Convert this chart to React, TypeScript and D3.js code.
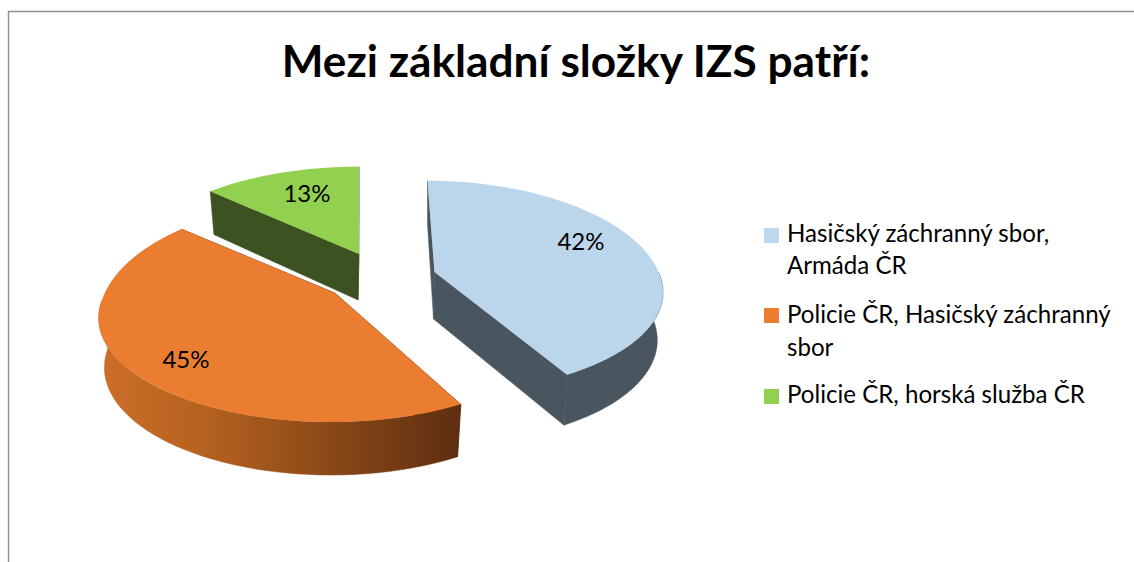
import React from "react";
import * as d3 from "d3";

const titleText = "Mezi základní složky IZS patří:";
const categories = ["Hasičský záchranný sbor, Armáda ČR", "Policie ČR, Hasičský záchranný sbor", "Policie ČR, horská služba ČR"];
const values = [42, 45, 13];
const valueLabels = ["42%", "45%", "13%"];
const legendLines = [["Hasičský záchranný sbor,", "Armáda ČR"], ["Policie ČR, Hasičský záchranný", "sbor"], ["Policie ČR, horská služba ČR"]];

const topColors = ["#BBD5EB", "#EB7D31", "#92D050"];
const swatchColors = ["#BDD7EE", "#ED7D31", "#92D050"];
const wallColors = ["#4A565F", "url(#orangeWall)", "#3C5220"];
const radialColors = ["#4A565F", "#5F2F10", "#3C5220"];
// ellipse centre of every slice and the visible tip of its wedge
const centres: [number, number][] = [[434.5, 272], [331, 300], [359, 254]];
const apexes: [number, number][] = [[434.5, 272], [335, 293], [359, 254]];
const radii = [224, 229, 228];
const skews = [-7, 0, 0];
const tiltFar = [1.045, 1.11, 0.985];
const tiltNear = [0.98, 0.97, 1];
const depthBase = [47, 49, 46];
const labelPos: [number, number][] = [[581, 250], [186, 368], [307, 202]];
const legendSwatchY = [228, 308, 389];
const legendBaselines = [[242, 274], [323, 356], [403]];
const drawOrder = [2, 0, 1];

const tilt = 105.6 / 232, persp = 5.76 * 232, baseShrink = 0.975;

const pieGen = d3.pie<number>().sort(null);
const arcs = pieGen(values);

function project(i: number, a: number, r: number, bottom: boolean): [number, number] {
  const [cx, cy] = r === 0 && !bottom ? apexes[i] : centres[i];
  if (r === 0) return bottom ? [apexes[i][0] - 1, apexes[i][1] + depthBase[i]] : [cx, cy];
  const R = radii[i];
  const X = r * R * Math.sin(a), Y = r * R * Math.cos(a);
  const p = persp / (persp + Y);
  const sx = X * p * (bottom ? baseShrink : 1) + skews[i] * (Y / R);
  const sy = -Y * tilt * p * (Y > 0 ? tiltFar[i] : tiltNear[i]);
  const depth = bottom ? depthBase[i] + (-Y / R) * 4 : 0;
  return [cx + sx, cy + sy + depth];
}

const lineGen = d3.line();

function rimAngles(a0: number, a1: number) {
  return d3.range(0, 81).map((k) => d3.interpolateNumber(a0, a1)(k / 80));
}

const clampFront = (a0: number, a1: number): [number, number] | null => {
  const lo = Math.max(a0, Math.PI * 0.5), hi = Math.min(a1, Math.PI * 1.5);
  return lo < hi ? [lo, hi] : null;
};

export default function App() {
  return (
    <svg width={1134} height={562} style={{ position: "fixed", left: 0, top: 0, background: "#fff" }}>
      <defs>
        <linearGradient id="orangeWall" gradientUnits="userSpaceOnUse" x1={101} x2={460} y1={0} y2={0}>
          <stop offset="0" stopColor="#CC6E2A" />
          <stop offset="0.3" stopColor="#B4611F" />
          <stop offset="1" stopColor="#5E2E10" />
        </linearGradient>
      </defs>
      <path d="M8.5,562 V11.5 H1134" fill="none" stroke="#8E8E8E" strokeWidth={1.4} />
      <text x={576} y={77} textAnchor="middle" fontFamily="Lato" fontWeight={700} fontSize={44.2} fill="#000">{titleText}</text>
      {drawOrder.map((i) => {
        const s = arcs[i];
        const radial = [s.startAngle, s.endAngle].map((a) =>
          lineGen([project(i, a, 1, false), project(i, a, 0, false), project(i, a, 0, true), project(i, a, 1, true)])! + "Z");
        const front = clampFront(s.startAngle, s.endAngle);
        const wall = front
          ? lineGen([
              ...rimAngles(front[0], front[1]).map((a) => project(i, a, 1, false)),
              ...rimAngles(front[1], front[0]).map((a) => project(i, a, 1, true)),
            ])! + "Z"
          : null;
        const top = lineGen([project(i, 0, 0, false), ...rimAngles(s.startAngle, s.endAngle).map((a) => project(i, a, 1, false))])! + "Z";
        return (
          <g key={categories[i]}>
            {radial.map((d, k) => <path key={k} d={d} fill={radialColors[i]} stroke={radialColors[i]} strokeWidth={0.5} />)}
            {wall && <path d={wall} fill={wallColors[i]} stroke={wallColors[i]} strokeWidth={0.5} />}
            <path d={top} fill={topColors[i]} />
          </g>
        );
      })}
      {valueLabels.map((t, i) => (
        <text key={t} x={labelPos[i][0]} y={labelPos[i][1]} textAnchor="middle" fontFamily="Lato" fontSize={24} fill="#000">{t}</text>
      ))}
      {legendLines.map((lines, i) => (
        <g key={i}>
          <rect x={764} y={legendSwatchY[i]} width={15} height={15} fill={swatchColors[i]} />
          {lines.map((l, k) => (
            <text key={k} x={787} y={legendBaselines[i][k]} fontFamily="Lato" fontSize={24.1} fill="#000">{l}</text>
          ))}
        </g>
      ))}
    </svg>
  );
}
